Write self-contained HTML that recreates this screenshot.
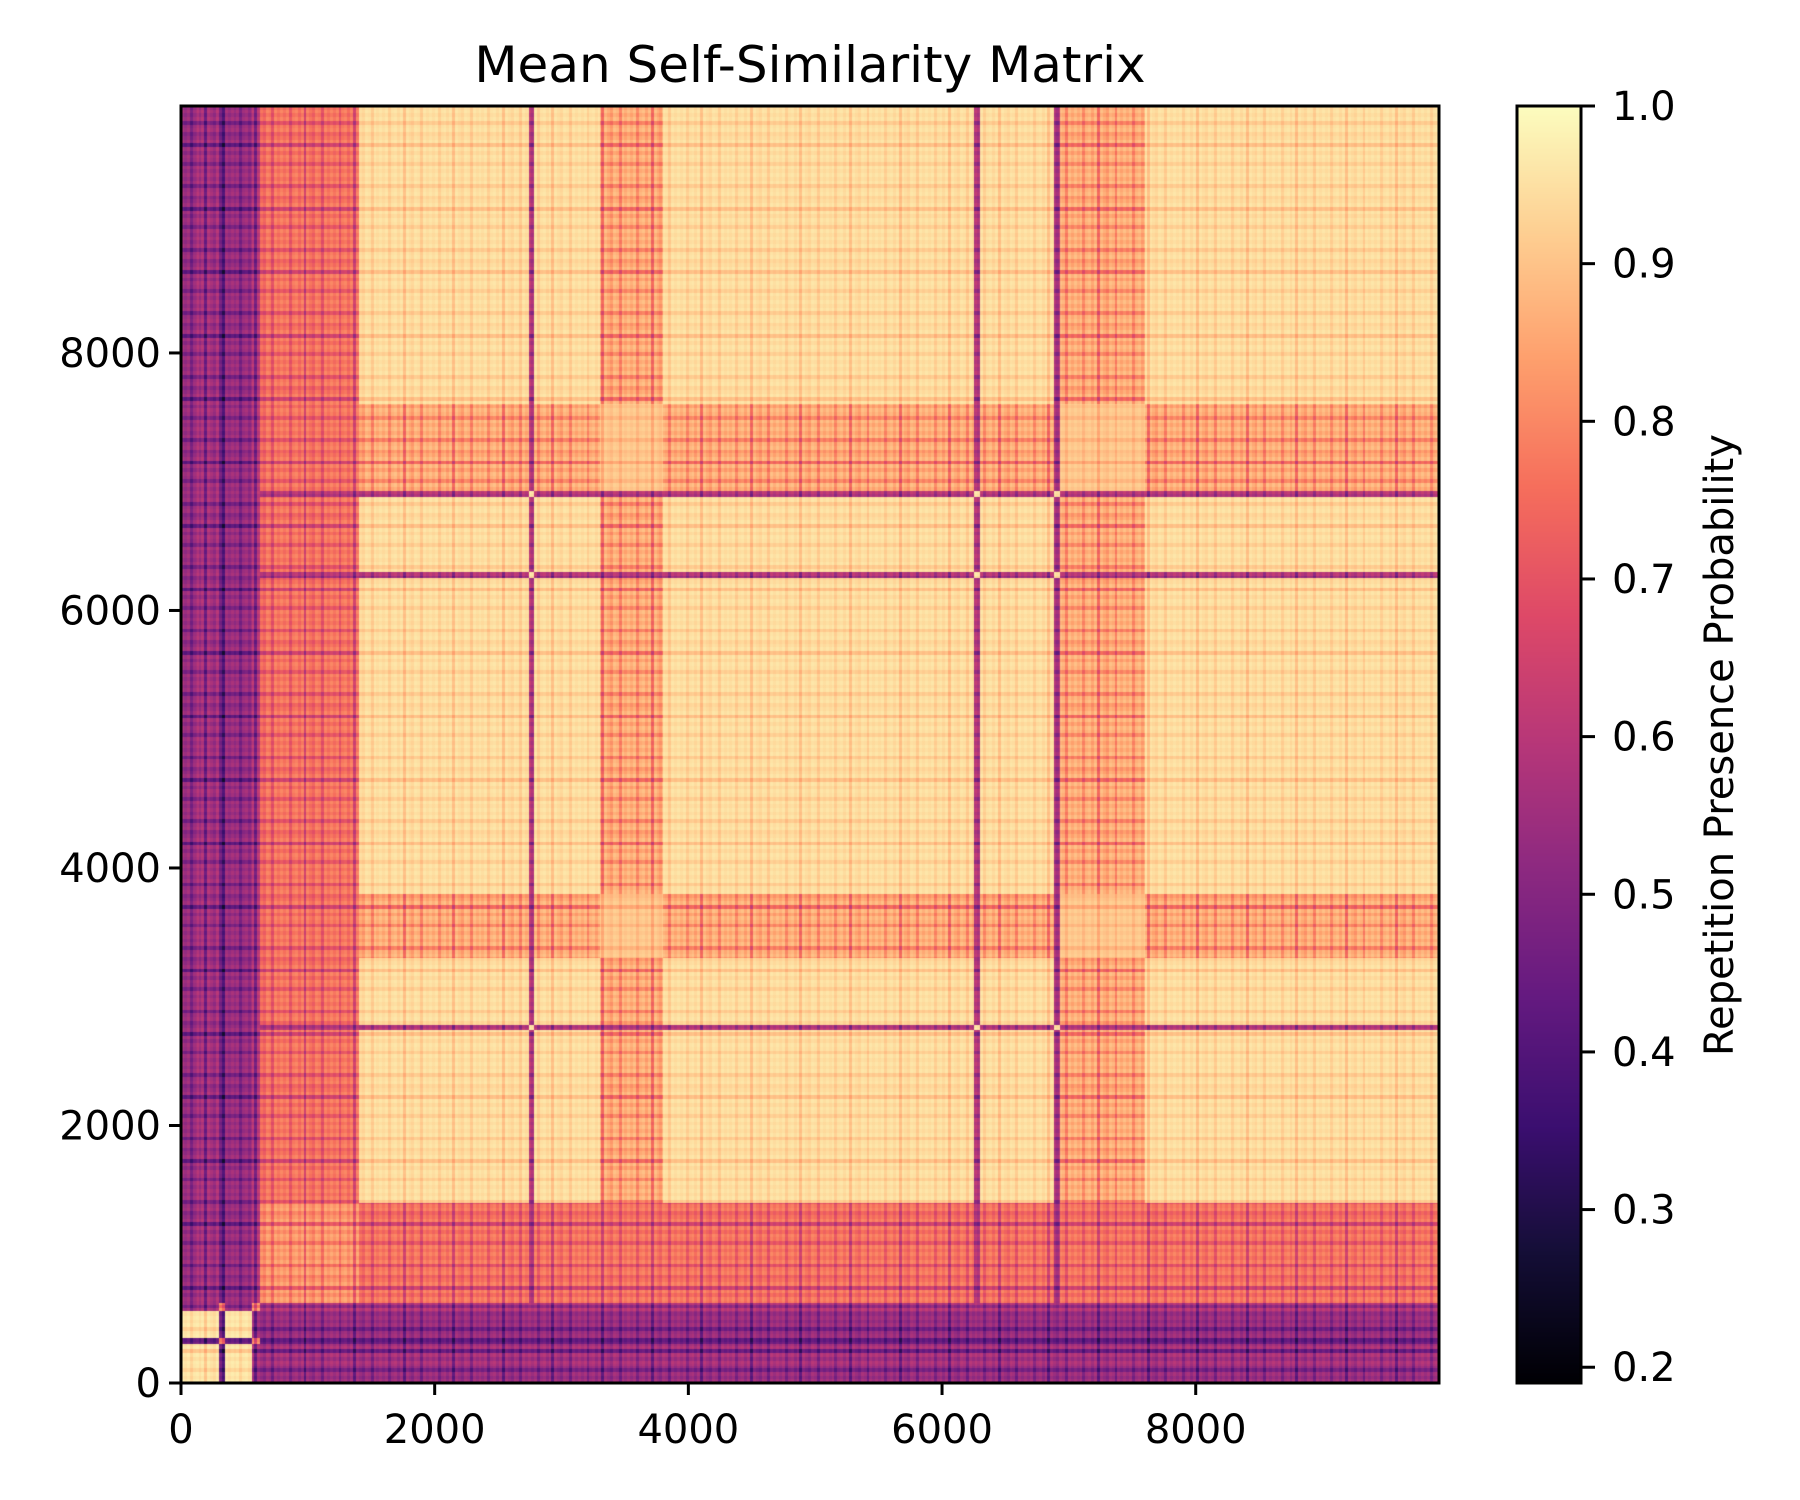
<!DOCTYPE html>
<html><head><meta charset="utf-8"><style>
html,body{margin:0;padding:0;background:#fff;}
#wrap{position:relative;width:1800px;height:1500px;overflow:hidden;font-family:"DejaVu Sans","Liberation Sans",sans-serif;}
canvas{position:absolute;}
svg{position:absolute;left:0;top:0;}
</style></head><body>
<div id="wrap">
<canvas id="hm" style="left:181px;top:106px;width:1258px;height:1277px" width="1258" height="1277"></canvas>
<canvas id="cb" style="left:1517px;top:106px;width:64px;height:1277px" width="64" height="1277"></canvas>
<svg id="ov" width="1800" height="1500"></svg>
</div>
<script>
// segment data: start index, end index, level, group
const segStart = [0,130,300,350,560,620,1400,2740,2780,3300,3800,6250,6300,6880,6930,7600];
const segEnd   = [130,300,350,560,620,1400,2740,2780,3300,3800,6250,6300,6880,6930,7600,9918];
const segLevel = [0.57,0.6,0.5,0.57,0.62,0.8,0.955,0.62,0.955,0.895,0.95,0.62,0.955,0.62,0.895,0.95];
const segGroup = [1,1,0,1,0,2,3,4,3,5,3,4,3,4,5,3];
const groupSelf = [0.85,0.97,0.86,0.96,0.97,0.92];
// fine texture offsets (repeating pattern)
const stripe = [0,0.02,0,0.06,0.01,0,0.03,0,0.1,0,0.02,0.04,0,0.01,0.07,0,0.02];
const xTicks = [0,2000,4000,6000,8000];
const yTicks = [0,2000,4000,6000,8000];
const cbTicks = [0.2,0.3,0.4,0.5,0.6,0.7,0.8,0.9,1.0];
const N = 9918, vmin = 0.19, vmax = 1.0;

const magma=[[0,0,4],[20,14,54],[59,15,112],[100,26,128],[140,41,129],[183,55,121],[222,73,104],[246,110,92],[254,159,109],[254,207,146],[252,253,191]];
function cmap(v){let t=(v-vmin)/(vmax-vmin);t=Math.max(0,Math.min(1,t))*10;let i=Math.min(9,Math.floor(t)),f=t-i;
 const a=magma[i],b=magma[i+1];return [a[0]+(b[0]-a[0])*f,a[1]+(b[1]-a[1])*f,a[2]+(b[2]-a[2])*f];}
function segOf(idx){for(let k=0;k<segStart.length;k++){if(idx>=segStart[k]&&idx<segEnd[k])return k;}return segStart.length-1;}
function val(i,j){const a=segOf(i),b=segOf(j);
 let v;
 if(segGroup[a]===segGroup[b]) v=groupSelf[segGroup[a]];
 else v=Math.min(segLevel[a],segLevel[b]);
 const tx=stripe[Math.floor(i/23)%stripe.length], ty=stripe[Math.floor(j/29)%stripe.length];
 return v-(tx+ty)*(v>0.9?0.6:1.4);}

const AX={x0:181,x1:1439,y0:1383,y1:106};
const sx=v=>AX.x0+v/N*(AX.x1-AX.x0);
const sy=v=>AX.y0-v/N*(AX.y0-AX.y1);

(function(){const c=document.getElementById('hm'),ctx=c.getContext('2d');const W=c.width,H=c.height;
 const img=ctx.createImageData(W,H);
 const colIdx=[],rowIdx=[];
 for(let x=0;x<W;x++)colIdx.push((x+0.5)/W*N);
 for(let y=0;y<H;y++)rowIdx.push(N-(y+0.5)/H*N);
 for(let y=0;y<H;y++){for(let x=0;x<W;x++){const col=cmap(val(colIdx[x],rowIdx[y]));const p=(y*W+x)*4;
  img.data[p]=col[0];img.data[p+1]=col[1];img.data[p+2]=col[2];img.data[p+3]=255;}}
 ctx.putImageData(img,0,0);})();
(function(){const c=document.getElementById('cb'),ctx=c.getContext('2d');
 for(let y=0;y<c.height;y++){const v=vmax-(y+0.5)/c.height*(vmax-vmin);const col=cmap(v);
 ctx.fillStyle=`rgb(${col[0]|0},${col[1]|0},${col[2]|0})`;ctx.fillRect(0,y,c.width,1);}})();

const NS='http://www.w3.org/2000/svg',svg=document.getElementById('ov');
function mk(tag,attrs,text){const e=document.createElementNS(NS,tag);for(const k in attrs)e.setAttribute(k,attrs[k]);if(text!==undefined)e.textContent=text;svg.appendChild(e);return e;}
let e;
e=mk('rect',{x:AX.x0,y:AX.y1,width:AX.x1-AX.x0,height:AX.y0-AX.y1,fill:'none',stroke:'#000','stroke-width':3});


e=mk('rect',{x:1517,y:106,width:64,height:1277,fill:'none',stroke:'#000','stroke-width':3});


e=mk('text',{x:810,y:82,'text-anchor':'middle','font-size':50,fill:'#000'},'Mean Self-Similarity Matrix');


xTicks.forEach(t=>{const x=sx(t);
 e=mk('line',{x1:x,x2:x,y1:AX.y0,y2:AX.y0+12,stroke:'#000','stroke-width':3});
 
 
 e=mk('text',{x:x,y:1443,'text-anchor':'middle','font-size':40,fill:'#000'},String(t));
 
 });
yTicks.forEach(t=>{const y=sy(t);
 e=mk('line',{x1:AX.x0-12,x2:AX.x0,y1:y,y2:y,stroke:'#000','stroke-width':3});
 
 
 e=mk('text',{x:AX.x0-20,y:y+14,'text-anchor':'end','font-size':40,fill:'#000'},String(t));
 
 });
cbTicks.forEach(t=>{const y=106+(vmax-t)/(vmax-vmin)*1277;
 e=mk('line',{x1:1581,x2:1595,y1:y,y2:y,stroke:'#000','stroke-width':3});
 
 
 e=mk('text',{x:1612,y:y+14,'font-size':40,fill:'#000'},t.toFixed(1));
 
 });
e=mk('text',{x:0,y:0,'text-anchor':'middle','font-size':40,fill:'#000',transform:'translate(1733,745) rotate(-90)'},'Repetition Presence Probability');


</script>
</body></html>
